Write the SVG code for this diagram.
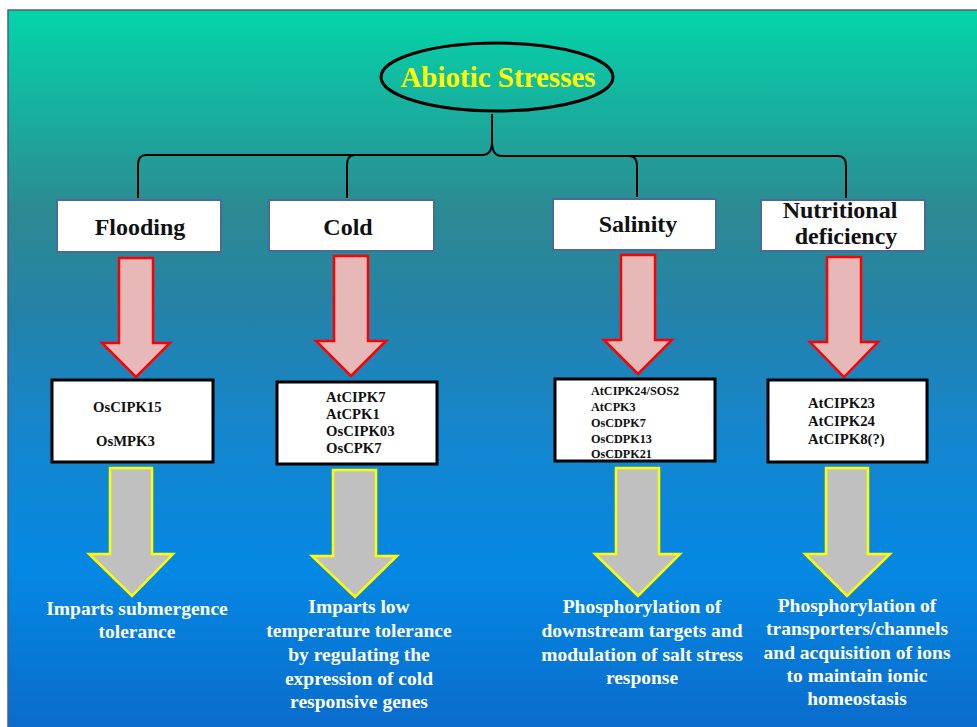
<svg xmlns="http://www.w3.org/2000/svg" width="977" height="727" viewBox="0 0 977 727">
<defs>
<linearGradient id="bg" x1="0" y1="10" x2="0" y2="727" gradientUnits="userSpaceOnUse">
<stop offset="0" stop-color="#03d5a9"/>
<stop offset="0.12" stop-color="#15b5a0"/>
<stop offset="0.28" stop-color="#2c8a92"/>
<stop offset="0.42" stop-color="#2482a8"/>
<stop offset="0.58" stop-color="#1686cc"/>
<stop offset="0.78" stop-color="#0588e3"/>
<stop offset="1" stop-color="#0a6ccc"/>
</linearGradient>
</defs>
<style>
.stress{fill:#fff;stroke:#4a6a9a;stroke-width:2}
.slabel{font-family:"Liberation Serif","Times New Roman",serif;font-weight:bold;font-size:24px;fill:#111;text-anchor:middle}
.red{fill:#e6b8b8;stroke:#ff0000;stroke-width:2.5;stroke-linejoin:miter}
.gray{fill:#c0c0c0;stroke:#ffff00;stroke-width:2.5}
.gene{fill:#fff;stroke:#000;stroke-width:3}
.gtext{font-family:"Liberation Serif","Times New Roman",serif;font-weight:bold;font-size:14.7px;fill:#111}
.stext{font-family:"Liberation Serif","Times New Roman",serif;font-weight:bold;font-size:12.2px;fill:#111}
.otext{font-family:"Liberation Serif","Times New Roman",serif;font-weight:bold;font-size:19.5px;fill:#fff;text-anchor:middle}
.conn{fill:none;stroke:#000;stroke-width:2}
</style>
<rect x="0" y="0" width="977" height="727" fill="#fff"/>
<rect x="8" y="10" width="975" height="720" fill="url(#bg)" stroke="#4a5f8a" stroke-width="1.5"/>

<g id="connectors">
<path class="conn" d="M492 114 V142 Q492 155 482 155 H146 Q138 155 138 165 V198"/>
<path class="conn" d="M492 142 Q492 156 502 156 H838 Q846 156 846 166 V198"/>
<path class="conn" d="M355 155 Q347 155 347 165 V198"/>
<path class="conn" d="M629 156 Q637 156 637 166 V197"/>
</g>

<g id="abiotic">
<ellipse cx="497" cy="77" rx="116" ry="34" fill="none" stroke="#000" stroke-width="3"/>
<text x="498" y="87" font-family="'Liberation Serif','Times New Roman',serif" font-weight="bold" font-size="29" fill="#ffff00" text-anchor="middle">Abiotic Stresses</text>
</g>

<g id="flooding">
<rect class="stress" x="57" y="200" width="164" height="52"/>
<text class="slabel" x="140" y="235">Flooding</text>
</g>
<g id="cold">
<rect class="stress" x="269" y="200" width="165" height="51"/>
<text class="slabel" x="348" y="235">Cold</text>
</g>
<g id="salinity">
<rect class="stress" x="553" y="199" width="163" height="51"/>
<text class="slabel" x="638" y="232">Salinity</text>
</g>
<g id="nutritional">
<rect class="stress" x="761" y="200" width="164" height="51"/>
<text class="slabel" x="840" y="218" font-size="21.5">Nutritional</text>
<text class="slabel" x="846" y="244" font-size="21.5">deficiency</text>
</g>

<g id="red-arrows">
<polygon class="red" points="119,258 153,258 153,343 170,343 136,377 102,343 119,343"/>
<polygon class="red" points="334,256 368,256 368,341 386,341 351,376 316,341 334,341"/>
<polygon class="red" points="621,255 655,255 655,340 672,340 638,374 604,340 621,340"/>
<polygon class="red" points="827,257 861,257 861,342 878,342 844,377 810,342 827,342"/>
</g>

<g id="genes-flooding">
<rect class="gene" x="52" y="380" width="161" height="82"/>
<text class="gtext" x="93" y="412">OsCIPK15</text>
<text class="gtext" x="96" y="446">OsMPK3</text>
</g>
<g id="genes-cold">
<rect class="gene" x="277" y="382" width="160" height="82"/>
<text class="gtext" x="326" y="402">AtCIPK7</text>
<text class="gtext" x="326" y="419">AtCPK1</text>
<text class="gtext" x="326" y="436">OsCIPK03</text>
<text class="gtext" x="326" y="453">OsCPK7</text>
</g>
<g id="genes-salinity">
<rect class="gene" x="555" y="379" width="160" height="82"/>
<text class="stext" x="591" y="395">AtCIPK24/SOS2</text>
<text class="stext" x="591" y="411">AtCPK3</text>
<text class="stext" x="591" y="427">OsCDPK7</text>
<text class="stext" x="591" y="443">OsCDPK13</text>
<text class="stext" x="591" y="458">OsCDPK21</text>
</g>
<g id="genes-nutritional">
<rect class="gene" x="768" y="380" width="159" height="82"/>
<text class="gtext" x="808" y="408">AtCIPK23</text>
<text class="gtext" x="808" y="426">AtCIPK24</text>
<text class="gtext" x="808" y="444">AtCIPK8(?)</text>
</g>

<g id="gray-arrows">
<polygon class="gray" points="110,468 152,468 152,554 173,554 132,596 89,554 110,554"/>
<polygon class="gray" points="333,470 376,470 376,556 397,556 355,597 312,556 333,556"/>
<polygon class="gray" points="616,468 659,468 659,554 680,554 638,596 595,554 616,554"/>
<polygon class="gray" points="826,468 868,468 868,554 890,554 847,596 805,554 826,554"/>
</g>

<g id="outcome-flooding">
<text class="otext" x="137" y="615">Imparts submergence</text>
<text class="otext" x="137" y="638">tolerance</text>
</g>
<g id="outcome-cold">
<text class="otext" x="359" y="613">Imparts low</text>
<text class="otext" x="359" y="637">temperature tolerance</text>
<text class="otext" x="359" y="661">by regulating the</text>
<text class="otext" x="359" y="685">expression of cold</text>
<text class="otext" x="359" y="708">responsive genes</text>
</g>
<g id="outcome-salinity">
<text class="otext" x="642" y="613">Phosphorylation of</text>
<text class="otext" x="642" y="637">downstream targets and</text>
<text class="otext" x="642" y="661">modulation of salt stress</text>
<text class="otext" x="642" y="684">response</text>
</g>
<g id="outcome-nutritional">
<text class="otext" x="857" y="612">Phosphorylation of</text>
<text class="otext" x="857" y="635">transporters/channels</text>
<text class="otext" x="857" y="659">and acquisition of ions</text>
<text class="otext" x="857" y="682">to maintain ionic</text>
<text class="otext" x="857" y="705">homeostasis</text>
</g>
</svg>
